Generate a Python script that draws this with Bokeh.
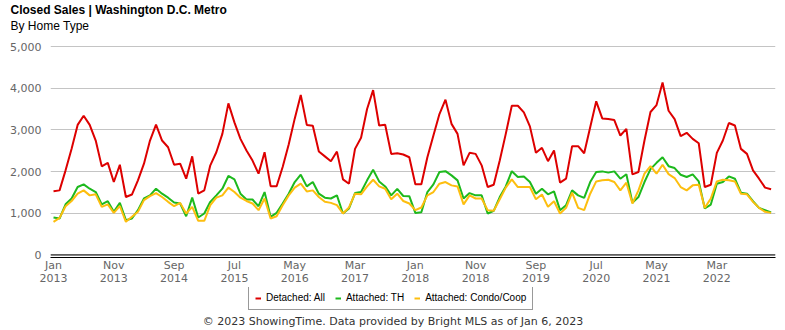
from bokeh.plotting import figure
from bokeh.layouts import column
from bokeh.models import (FixedTicker, NumeralTickFormatter, Span, Legend, Title, Label,
                          LegendItem, Range1d, ColumnDataSource)
from bokeh.embed import file_html
from bokeh.resources import INLINE

# Monthly index: 0 = Jan 2013 ... 119 = Dec 2022
month_index = list(range(120))

detached_all = [
    1530, 1550, 2030, 2550, 3120, 3340, 3120, 2745, 2125, 2210, 1750, 2165,
    1390, 1450, 1790, 2190, 2745, 3125, 2745, 2585, 2165, 2190, 1830, 2365,
    1470, 1550, 2150, 2465, 2905, 3635, 3180, 2785, 2505, 2265, 1950, 2465,
    1650, 1650, 2110, 2650, 3270, 3840, 3120, 3100, 2480, 2365, 2250, 2480,
    1815, 1710, 2545, 2810, 3500, 3955, 3105, 3125, 2425, 2440, 2410, 2345,
    1695, 1695, 2345, 2865, 3380, 3725, 3145, 2905, 2150, 2450, 2425, 2150,
    1630, 1685, 2265, 2905, 3580, 3580, 3420, 3085, 2450, 2570, 2250, 2505,
    1735, 1830, 2610, 2610, 2440, 3065, 3685, 3275, 3260, 3235, 2865, 3025,
    1935, 1990, 2745, 3430, 3595, 4135, 3460, 3260, 2850, 2930, 2785, 2680,
    1630, 1685, 2450, 2745, 3165, 3105, 2545, 2425, 2030, 1830, 1615, 1575,
]

attached_th = [
    900, 875, 1215, 1355, 1630, 1695, 1590, 1510, 1215, 1290, 1035, 1250,
    835, 875, 1075, 1355, 1430, 1590, 1470, 1375, 1260, 1235, 930, 1375,
    900, 995, 1275, 1430, 1590, 1895, 1815, 1470, 1330, 1330, 1170, 1510,
    915, 1010, 1235, 1470, 1750, 1925, 1645, 1750, 1470, 1375, 1355, 1430,
    995, 1115, 1485, 1510, 1790, 2045, 1765, 1645, 1430, 1585, 1415, 1410,
    1010, 1025, 1510, 1695, 1990, 2010, 1910, 1790, 1355, 1485, 1430, 1430,
    995, 1060, 1390, 1645, 2010, 1870, 1885, 1750, 1470, 1590, 1455, 1525,
    1075, 1195, 1550, 1430, 1370, 1750, 1990, 2005, 1975, 2005, 1830, 1935,
    1255, 1390, 1750, 2060, 2210, 2345, 2130, 2085, 1925, 1870, 1935, 1765,
    1115, 1210, 1710, 1750, 1885, 1830, 1495, 1470, 1290, 1130, 1075, 1020,
]

attached_condo = [
    795, 890, 1170, 1295, 1470, 1550, 1430, 1455, 1155, 1215, 1010, 1175,
    795, 915, 1035, 1315, 1410, 1485, 1390, 1275, 1170, 1250, 995, 1155,
    820, 820, 1195, 1375, 1430, 1615, 1510, 1375, 1295, 1235, 1075, 1355,
    875, 930, 1195, 1430, 1615, 1710, 1525, 1550, 1390, 1275, 1250, 1195,
    995, 1140, 1470, 1455, 1645, 1805, 1645, 1590, 1335, 1470, 1295, 1235,
    1075, 1140, 1430, 1510, 1710, 1750, 1670, 1645, 1215, 1430, 1355, 1355,
    1075, 1060, 1335, 1615, 1815, 1630, 1630, 1630, 1335, 1450, 1155, 1290,
    995, 1130, 1495, 1130, 1075, 1470, 1765, 1790, 1805, 1750, 1550, 1735,
    1235, 1550, 1950, 2130, 1950, 2165, 1940, 1845, 1630, 1550, 1670, 1685,
    1130, 1355, 1765, 1805, 1790, 1765, 1470, 1455, 1275, 1130, 1035, 1010,
]

tick_positions = [0, 10, 20, 30, 40, 50, 60, 70, 80, 90, 100, 110]
tick_labels = ["Jan\n2013", "Nov\n2013", "Sep\n2014", "Jul\n2015", "May\n2016", "Mar\n2017",
               "Jan\n2018", "Nov\n2018", "Sep\n2019", "Jul\n2020", "May\n2021", "Mar\n2022"]
y_ticks = [0, 1000, 2000, 3000, 4000, 5000]

series_names = ["Detached: All", "Attached: TH", "Attached: Condo/Coop"]
series_cols = ["det", "th", "condo"]
series_colors = ["#DD0000", "#1DB91D", "#FDBE0F"]

src = ColumnDataSource(dict(x=month_index, det=detached_all, th=attached_th, condo=attached_condo))

p = figure(frame_width=725, frame_height=225, output_backend="svg", toolbar_location=None,
           x_range=Range1d(-0.5, 119.73), y_range=Range1d(-60, 5336),
           min_border_left=50, min_border_right=10, min_border_top=32, min_border_bottom=30)
p.outline_line_color = None
p.background_fill_color = "white"
p.border_fill_color = "white"

# axes
p.yaxis.ticker = FixedTicker(ticks=y_ticks)
p.yaxis.formatter = NumeralTickFormatter(format="0,0")
p.yaxis.axis_line_color = None
p.yaxis.major_tick_line_color = None
p.yaxis.minor_tick_line_color = None
p.yaxis.major_tick_out = 0
p.yaxis.major_tick_in = 0
p.yaxis.major_label_standoff = 9
p.yaxis.major_label_text_font = "DejaVu Sans"
p.yaxis.major_label_text_font_size = "11px"
p.yaxis.major_label_text_color = "#666666"

p.xaxis.ticker = FixedTicker(ticks=tick_positions)
p.xaxis.major_label_overrides = {t: l for t, l in zip(tick_positions, tick_labels)}
p.xaxis.axis_line_color = "black"
p.xaxis.axis_line_width = 1
p.xaxis.major_tick_line_color = None
p.xaxis.minor_tick_line_color = None
p.xaxis.major_tick_out = 0
p.xaxis.major_tick_in = 0
p.xaxis.major_label_standoff = 1
p.xaxis.major_label_text_font = "DejaVu Sans"
p.xaxis.major_label_text_font_size = "11px"
p.xaxis.major_label_text_line_height = 1.0
p.xaxis.major_label_text_color = "#666666"

p.xgrid.grid_line_color = None
p.ygrid.grid_line_color = "#C4C4C4"
p.ygrid.grid_line_width = 1

p.add_layout(Span(location=0, dimension="width", line_color="black", line_width=1))

for col, c in zip(series_cols, series_colors):
    p.line("x", col, source=src, line_color=c, line_width=2)

p.add_layout(Title(text="By Home Type", align="left", offset=-40, standoff=0,
                   text_font="Liberation Sans", text_font_size="12px",
                   text_font_style="normal", text_color="#000000"), "above")
p.add_layout(Title(text="Closed Sales | Washington D.C. Metro", align="left", offset=-40,
                   standoff=0, text_font="Liberation Sans", text_font_size="12px",
                   text_font_style="bold", text_color="#000000"), "above")

# footer strip: legend + source note (1 unit = 1 pixel)
p2 = figure(frame_width=725, frame_height=43, output_backend="svg", toolbar_location=None,
            x_range=Range1d(0, 725), y_range=Range1d(0, 43),
            x_axis_type=None, y_axis_type=None,
            min_border_left=50, min_border_right=10, min_border_top=0, min_border_bottom=0)
p2.outline_line_color = None
p2.xgrid.grid_line_color = None
p2.ygrid.grid_line_color = None
p2.background_fill_color = "white"
p2.border_fill_color = "white"

# same series here (values lie far outside this strip's y-range, so only their legend swatches show)
legend_renderers = [p2.line("x", col, source=src, line_color=c, line_width=2)
                    for col, c in zip(series_cols, series_colors)]

legend = Legend(items=[LegendItem(label=n, renderers=[r]) for n, r in zip(series_names, legend_renderers)],
                orientation="horizontal", location=(198, 20),
                label_text_font="Liberation Sans", label_text_font_size="10px",
                label_text_color="#000000", glyph_width=6, glyph_height=10,
                label_height=10, label_standoff=5, spacing=10, padding=6, margin=0,
                border_line_color="#999999", border_line_width=1, border_line_alpha=1.0,
                background_fill_color="white", background_fill_alpha=1)
p2.add_layout(legend)

p2.add_layout(Label(x=342.5, y=9, x_units="screen", y_units="screen",
                    text="© 2023 ShowingTime. Data provided by Bright MLS as of Jan 6, 2023",
                    text_font="DejaVu Sans", text_font_size="11px", text_color="#333333",
                    text_align="center", text_baseline="alphabetic"))

open("out.html", "w").write(file_html(column(p, p2, spacing=0), INLINE))
